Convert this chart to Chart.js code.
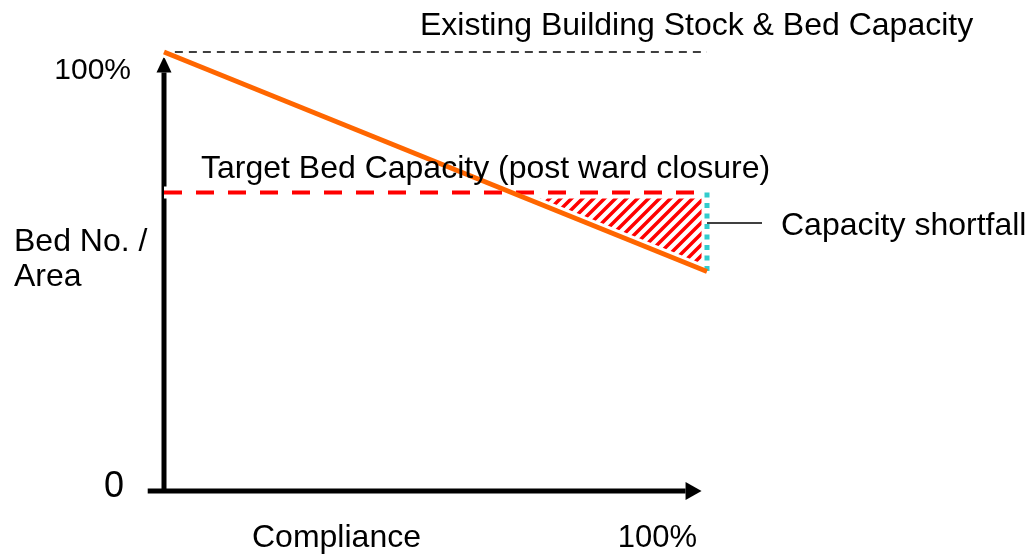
<!DOCTYPE html>
<html>
<head>
<meta charset="utf-8">
<script src="https://cdn.jsdelivr.net/npm/chart.js@4.4.1/dist/chart.umd.min.js"></script>
<style>
  html, body { margin: 0; padding: 0; background: #ffffff; }
  #wrap { width: 1028px; height: 554px; }
</style>
</head>
<body>
<div id="wrap"><canvas id="capacityChart" width="1028" height="554"></canvas></div>
<script>
// compliance (x, %) and bed no. / area (y, %)
const compliance = [0, 100];
const existingX = [2, 100];
const existingStock = [100, 100];
const targetCapacity = [68, 68];
const bedCapacity = [100, 50];
const shortfallX = [100, 100];
const shortfallY = [68, 50];

const yTickLabels = ['0', '100%'];
const xTickLabels = ['100%'];
const xAxisTitle = 'Compliance';
const yAxisTitle = ['Bed No. /', 'Area'];
const existingLabel = 'Existing Building Stock & Bed Capacity';
const targetLabel = 'Target Bed Capacity (post ward closure)';
const shortfallLabel = 'Capacity shortfall';

const FONT = '"Liberation Sans", Arial, sans-serif';

function toPoints(xs, ys) {
    return xs.map((x, i) => ({ x: x, y: ys[i] }));
}

// red diagonal hatch for the shortfall area
function makeHatch() {
    const s = 11;
    const c = document.createElement('canvas');
    c.width = s;
    c.height = s;
    const g = c.getContext('2d');
    g.strokeStyle = '#ff0000';
    g.lineWidth = 3.5;
    g.beginPath();
    g.moveTo(-2, 2); g.lineTo(2, -2);
    g.moveTo(0, s); g.lineTo(s, 0);
    g.moveTo(s - 2, s + 2); g.lineTo(s + 2, s - 2);
    g.stroke();
    return g.createPattern(c, 'repeat');
}

function arrow(ctx, x1, y1, x2, y2, headLen, headW) {
    const ang = Math.atan2(y2 - y1, x2 - x1);
    const bx = x2 - headLen * Math.cos(ang);
    const by = y2 - headLen * Math.sin(ang);
    ctx.beginPath();
    ctx.moveTo(x1, y1);
    ctx.lineTo(bx, by);
    ctx.stroke();
    ctx.beginPath();
    ctx.moveTo(x2, y2);
    ctx.lineTo(bx + headW / 2 * Math.sin(ang), by - headW / 2 * Math.cos(ang));
    ctx.lineTo(bx - headW / 2 * Math.sin(ang), by + headW / 2 * Math.cos(ang));
    ctx.closePath();
    ctx.fill();
}

// axes with arrow heads, drawn under the lines
const axesPlugin = {
    id: 'axesPlugin',
    beforeDatasetsDraw(chart) {
        const ctx = chart.ctx;
        const xs = chart.scales.x;
        const ys = chart.scales.y;
        const x0 = xs.getPixelForValue(0);
        const y0 = ys.getPixelForValue(0);
        ctx.save();
        ctx.strokeStyle = '#000000';
        ctx.fillStyle = '#000000';
        ctx.lineWidth = 5;
        arrow(ctx, x0, y0 + 2, x0, ys.getPixelForValue(99), 16, 15);
        arrow(ctx, xs.getPixelForValue(-3), y0, xs.getPixelForValue(99), y0, 16, 18);
        ctx.restore();
    }
};

// labels
const labelPlugin = {
    id: 'labelPlugin',
    afterDraw(chart) {
        const ctx = chart.ctx;
        const xs = chart.scales.x;
        const ys = chart.scales.y;
        ctx.save();
        ctx.fillStyle = '#000000';
        ctx.textBaseline = 'alphabetic';
        ctx.textAlign = 'left';
        ctx.font = '32px ' + FONT;
        ctx.fillText(existingLabel, 420, 35);
        ctx.fillText(targetLabel, 201, 178);
        ctx.fillText(shortfallLabel, 781, 235);
        ctx.fillText(yAxisTitle[0], 14, 251);
        ctx.fillText(yAxisTitle[1], 14, 286);
        ctx.fillText(xAxisTitle, 252, 547);
        ctx.textAlign = 'right';
        ctx.font = '31px ' + FONT;
        ctx.fillText(xTickLabels[0], 697, 547);
        ctx.font = '30px ' + FONT;
        ctx.fillText(yTickLabels[1], 131, ys.getPixelForValue(100) + 27);
        ctx.font = '36px ' + FONT;
        ctx.fillText(yTickLabels[0], 124, ys.getPixelForValue(0) + 6);
        // leader line to the shortfall label
        ctx.strokeStyle = '#000000';
        ctx.lineWidth = 1.5;
        ctx.beginPath();
        ctx.moveTo(xs.getPixelForValue(100), 223);
        ctx.lineTo(762, 223);
        ctx.stroke();
        ctx.restore();
    }
};

// white bands under the lines leave a small gap round the hatch
function underlay(xs, ys, width) {
    return {
        data: toPoints(xs, ys),
        showLine: true,
        borderColor: '#ffffff',
        borderWidth: width,
        pointRadius: 0,
        clip: false,
        order: 10
    };
}

const ctx = document.getElementById('capacityChart').getContext('2d');
const capacityChart = new Chart(ctx, {
    type: 'scatter',
    data: {
        datasets: [
            {
                label: 'Bed capacity',
                data: toPoints(compliance, bedCapacity),
                showLine: true,
                borderColor: '#ff6600',
                borderWidth: 5,
                pointRadius: 0,
                fill: { target: 1, above: 'rgba(0,0,0,0)', below: makeHatch() },
                clip: false,
                order: 0
            },
            {
                label: 'Target',
                data: toPoints(compliance, targetCapacity),
                showLine: true,
                borderColor: '#ff0000',
                borderWidth: 4,
                borderDash: [18, 14],
                pointRadius: 0,
                clip: false,
                order: 2
            },
            {
                label: 'Existing',
                data: toPoints(existingX, existingStock),
                showLine: true,
                borderColor: '#000000',
                borderWidth: 1.5,
                borderDash: [8, 6],
                pointRadius: 0,
                clip: false,
                order: 3
            },
            {
                label: 'Shortfall',
                data: toPoints(shortfallX, shortfallY),
                showLine: true,
                borderColor: '#33cccc',
                borderWidth: 5,
                borderDash: [5, 5.5],
                pointRadius: 0,
                clip: false,
                order: 1
            },
            underlay(compliance, targetCapacity, 12),
            underlay(compliance, bedCapacity, 11),
            underlay(shortfallX, shortfallY, 11)
        ]
    },
    options: {
        responsive: false,
        animation: false,
        layout: { padding: { left: 164, right: 321, top: 52, bottom: 63 } },
        plugins: {
            legend: { display: false },
            tooltip: { enabled: false },
            filler: { drawTime: 'beforeDatasetsDraw' }
        },
        scales: {
            x: { type: 'linear', min: 0, max: 100, display: false },
            y: { type: 'linear', min: 0, max: 100, display: false }
        }
    },
    plugins: [axesPlugin, labelPlugin]
});
</script>
</body>
</html>
